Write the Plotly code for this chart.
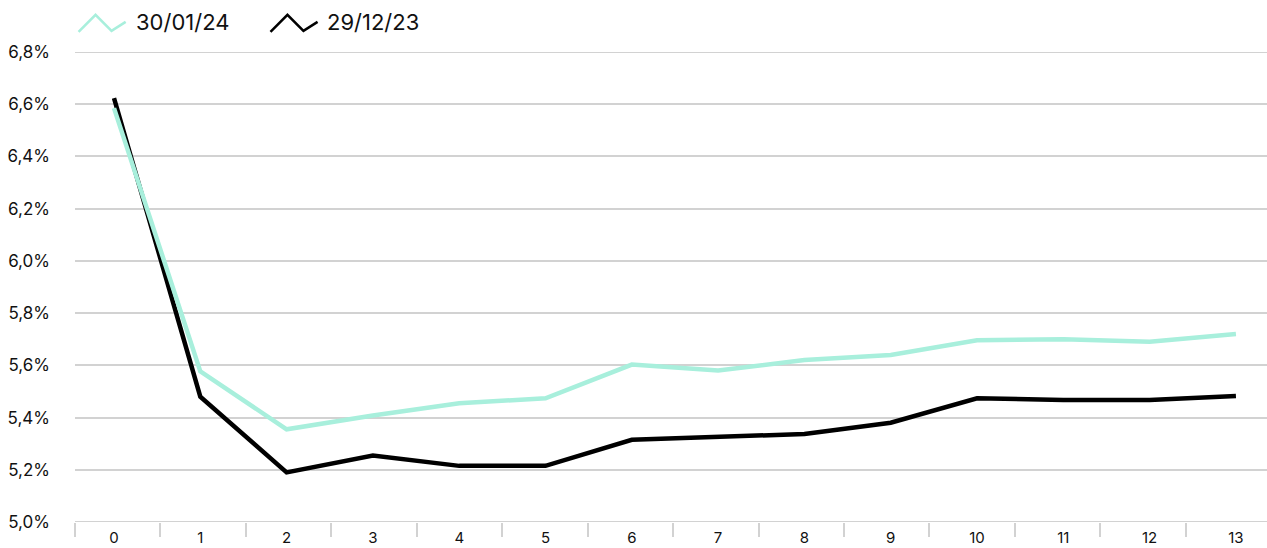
import plotly.graph_objects as go

# Maturity buckets (years) and yield curves for the two dates
maturities = list(range(14))
curve_300124 = [6.585, 5.577, 5.355, 5.408, 5.455, 5.474, 5.603, 5.58, 5.62, 5.64, 5.696, 5.70, 5.69, 5.72]
curve_291223 = [6.623, 5.48, 5.19, 5.255, 5.215, 5.215, 5.315, 5.325, 5.337, 5.38, 5.474, 5.467, 5.467, 5.483]

series_names = ["30/01/24", "29/12/23"]
series_colors = ["#a8efdc", "#000000"]

y_ticks = [5.0, 5.2, 5.4, 5.6, 5.8, 6.0, 6.2, 6.4, 6.6, 6.8]
y_tick_text = [f"{v:.1f}".replace(".", ",") + "%" for v in y_ticks]
x_tick_text = [str(m) for m in maturities]

FONT = "Inter, Roboto, sans-serif"
GRID = "#d2d2d2"
TEXT = "#111111"

fig = go.Figure()

# darker curve first so the light curve sits on top
fig.add_trace(go.Scatter(x=maturities, y=curve_291223, mode="lines", name=series_names[1],
                         line=dict(color=series_colors[1], width=4.5), showlegend=False))
fig.add_trace(go.Scatter(x=maturities, y=curve_300124, mode="lines", name=series_names[0],
                         line=dict(color=series_colors[0], width=4.5), showlegend=False))

# category separators sit between the labelled maturities
sep_vals = [-0.452 + 0.99 * k for k in range(15)]

fig.update_layout(
    width=1267, height=548,
    margin=dict(l=75, r=0, t=52, b=26, autoexpand=False),
    plot_bgcolor="white", paper_bgcolor="white",
    font=dict(family=FONT, size=16, color=TEXT),
    xaxis=dict(
        range=[-0.452, 13.36], tickmode="array", tickvals=maturities, ticktext=x_tick_text,
        showgrid=False, zeroline=False, showline=False, ticks="", ticklabelstandoff=5,
        tickfont=dict(size=15, color=TEXT), automargin=False,
    ),
    xaxis2=dict(
        overlaying="x", matches="x", side="bottom",
        tickmode="array", tickvals=sep_vals, ticktext=[""] * len(sep_vals),
        ticks="outside", ticklen=14, tickwidth=2, tickcolor=GRID,
        showgrid=False, zeroline=False, showline=False, automargin=False,
    ),
    yaxis=dict(
        range=[5.0, 6.8], tickmode="array", tickvals=y_ticks, ticktext=y_tick_text,
        showgrid=True, gridcolor=GRID, gridwidth=2, zeroline=False, showline=False,
        ticks="", ticklabelstandoff=24, tickfont=dict(size=17, color=TEXT), automargin=False,
    ),
)

# invisible anchor trace so the separator axis is drawn
fig.add_trace(go.Scatter(x=[0], y=[5.0], xaxis="x2", mode="markers",
                         marker=dict(opacity=0), showlegend=False, hoverinfo="skip"))

# bottom axis line and the top grid line at the range edges
for edge in (y_ticks[0], y_ticks[-1]):
    fig.add_shape(type="line", xref="paper", yref="y", x0=0, x1=1, y0=edge, y1=edge,
                  line=dict(color=GRID, width=2), layer="below")

# legend with zigzag glyphs
legend_items = [
    (series_names[0], series_colors[0], 0.003, 0.0495),
    (series_names[1], series_colors[1], 0.164, 0.2095),
]
for name, color, gx, tx in legend_items:
    w = 0.0395
    path = (f"M {gx},1.043 L {gx + w * 0.36},1.079 L {gx + w * 0.70},1.045 L {gx + w},1.064")
    fig.add_shape(type="path", xref="paper", yref="paper", path=path,
                  line=dict(color=color, width=2.5))
    fig.add_annotation(xref="paper", yref="paper", x=tx, y=1.064, text=name, showarrow=False,
                       xanchor="left", yanchor="middle", font=dict(size=22, family=FONT, color=TEXT))

fig.write_html("out.html")
